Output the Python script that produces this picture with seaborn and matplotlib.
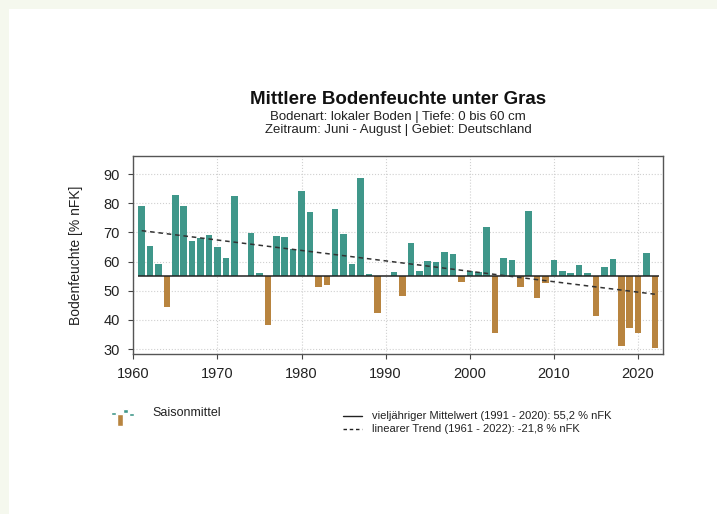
import numpy as np
import pandas as pd
import seaborn as sns
import matplotlib.pyplot as plt
from matplotlib.lines import Line2D
from matplotlib.patches import Rectangle

# Saisonmittel Juni - August, Bodenfeuchte [% nFK]
years = list(range(1961, 2023))
values = [79.1, 65.3, 59.1, 44.3, 82.8, 79.1, 67.0, 68.0, 69.2, 65.0,
          61.2, 82.5, 55.0, 69.9, 56.2, 38.2, 68.8, 68.5, 64.3, 84.2,
          76.9, 51.3, 51.8, 78.1, 69.4, 59.2, 88.8, 55.9, 42.5, 55.0,
          56.5, 48.3, 66.2, 56.7, 60.2, 59.7, 63.4, 62.5, 53.0, 56.9,
          56.5, 72.0, 35.5, 61.3, 60.6, 51.2, 77.3, 47.5, 52.7, 60.4,
          56.9, 56.1, 58.9, 56.0, 41.3, 58.2, 60.9, 31.2, 37.2, 35.4,
          63.1, 30.3]
mittelwert = 55.2          # 1991 - 2020
trend_years = [1961, 2022]
trend_values = [70.6, 48.8]  # linearer Trend, -21,8 % nFK

teal = "#3f978a"
brown = "#b8843f"

df = pd.DataFrame({"Jahr": years, "Wert": values})
df["diff"] = df["Wert"] - mittelwert
df["lage"] = np.where(df["diff"] >= 0, "über", "unter")

sns.set_theme(style="ticks")
plt.rcParams["font.family"] = ["Liberation Sans", "DejaVu Sans"]
textcol = "#222222"

W, H = 717, 514
fig = plt.figure(figsize=(7.17, 5.14), dpi=100, facecolor="#f5f8ee")
fig.add_artist(Rectangle((9 / W, 0), 1, 1 - 9 / H, transform=fig.transFigure,
                         facecolor="white", edgecolor="none", zorder=-10))

ax = fig.add_axes([133.3 / W, 160 / H, 530 / W, 198 / H])
ax.grid(True, color="#d0d0d0", linestyle=":", linewidth=0.8)
ax.set_axisbelow(True)

sns.barplot(data=df, x="Jahr", y="diff", hue="lage", palette={"über": teal, "unter": brown},
            native_scale=True, dodge=False, width=0.78, saturation=1, errorbar=None,
            legend=False, bottom=mittelwert, edgecolor="none", ax=ax)

ax.hlines(mittelwert, years[0] - 0.45, years[-1] + 0.45, color="#222222", linewidth=1.1, zorder=3)
sns.lineplot(x=trend_years, y=trend_values, color="#333333", linestyle=(0, (3, 2.5)),
             linewidth=1.1, ax=ax, zorder=4)

ax.set_xlim(1960, 2023)
ax.set_ylim(28.3, 96.2)
ax.set_xticks(range(1960, 2021, 10))
ax.set_yticks(range(30, 91, 10))
ax.tick_params(labelsize=10.5, colors="#444444", labelcolor=textcol, length=3.5, width=0.8)
ax.tick_params(axis="x", pad=6)
ax.tick_params(axis="y", pad=6)
ax.set_xlabel("")
ax.set_ylabel("Bodenfeuchte [% nFK]", fontsize=10, color=textcol, labelpad=15)
for s in ax.spines.values():
    s.set_color("#555555")
    s.set_linewidth(1.0)

# Titel
fig.text(398 / W, 1 - 99 / H, "Mittlere Bodenfeuchte unter Gras", ha="center", va="center",
         fontsize=13.5, fontweight="bold", color="#111111")
fig.text(398 / W, 1 - 117 / H, "Bodenart: lokaler Boden | Tiefe: 0 bis 60 cm", ha="center",
         va="center", fontsize=9.5, color=textcol)
fig.text(398 / W, 1 - 130.5 / H, "Zeitraum: Juni - August | Gebiet: Deutschland", ha="center",
         va="center", fontsize=9.5, color=textcol)

# Legende links: kleines Saisonmittel-Symbol (Pixelkoordinaten)
icon = fig.add_axes([108 / W, 1 - 427 / H, 27 / W, 22 / H])
icon_x = [113.5, 120.0, 125.5, 131.0]
icon_top = [411.5, 413.5, 408.5, 412.5]
icon_h = [3.5, 12, 4.5, 3.5]
icon_w = [5, 5.5, 4.5, 5]
icon.bar(icon_x, icon_h, width=icon_w, bottom=icon_top, color=[teal, brown, teal, teal])
icon.set_xlim(108, 135)
icon.set_ylim(427, 405)
icon.axis("off")
fig.text(152.5 / W, 1 - 413 / H, "Saisonmittel", ha="left", va="center", fontsize=9, color=textcol)

# Legende rechts
fig.add_artist(Line2D([343 / W, 362 / W], [1 - 416 / H] * 2, color="#222222", linewidth=1.0))
fig.add_artist(Line2D([343 / W, 362 / W], [1 - 429 / H] * 2, color="#222222", linewidth=1.0,
                      linestyle=(0, (2.5, 2))))
fig.text(371.5 / W, 1 - 416 / H, "vieljähriger Mittelwert (1991 - 2020): 55,2 % nFK", ha="left",
         va="center", fontsize=8, color=textcol)
fig.text(371.5 / W, 1 - 429 / H, "linearer Trend (1961 - 2022): -21,8 % nFK", ha="left",
         va="center", fontsize=8, color=textcol)

fig.savefig("out.png", dpi=100, facecolor=fig.get_facecolor())
